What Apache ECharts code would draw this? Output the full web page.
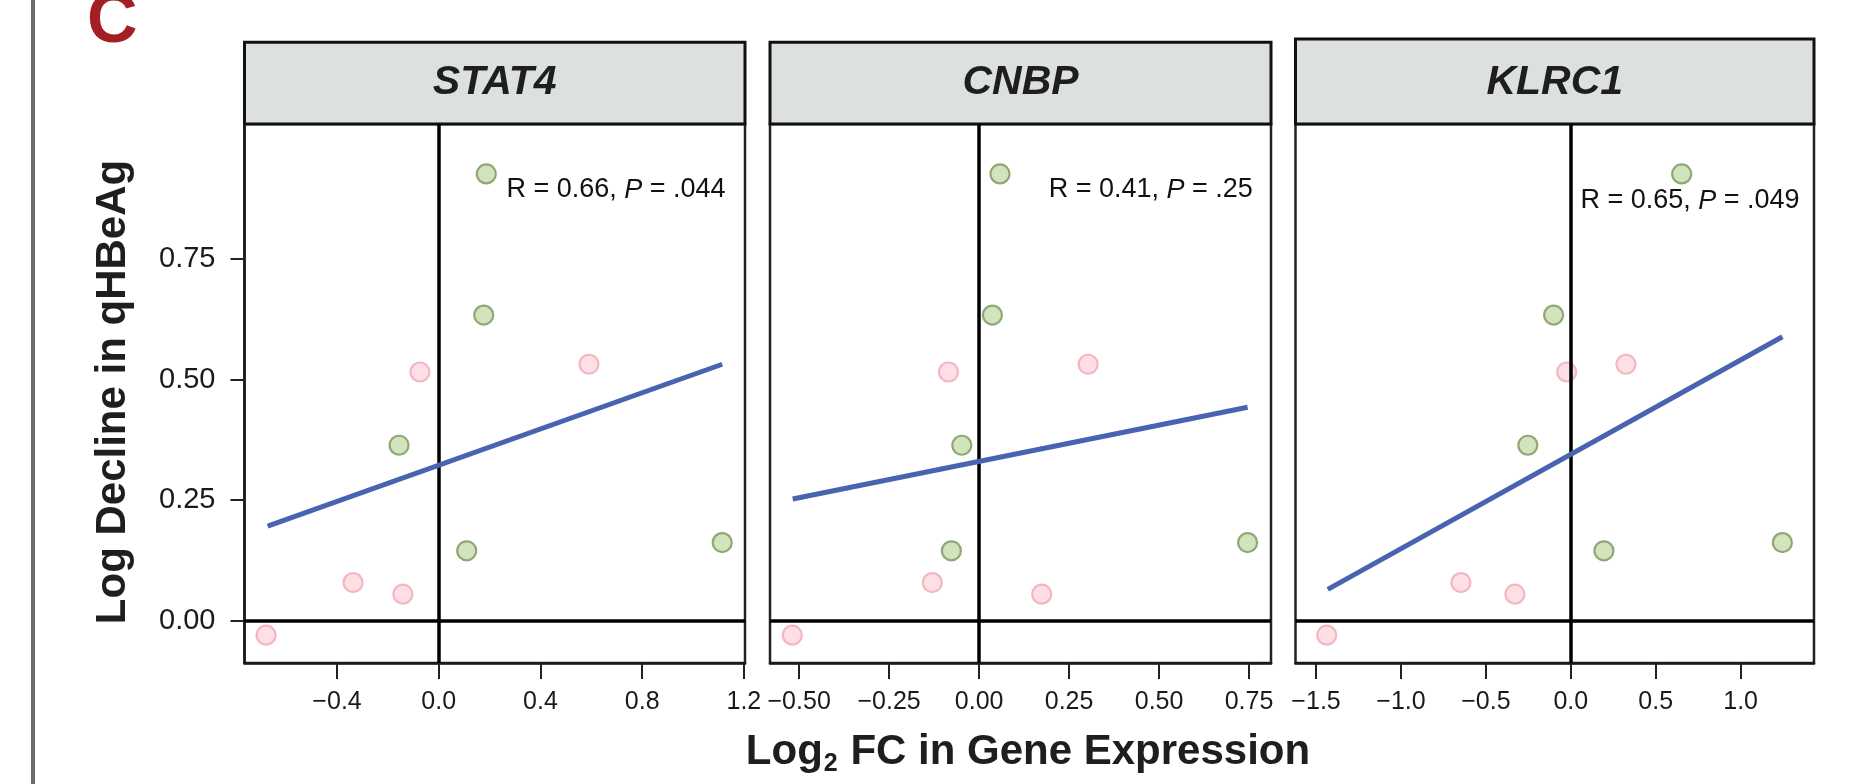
<!DOCTYPE html>
<html>
<head>
<meta charset="utf-8">
<script src="https://cdn.jsdelivr.net/npm/echarts@6/dist/echarts.min.js"></script>
<style>
  html, body { margin: 0; padding: 0; background: #fff; }
  #chart { width: 1854px; height: 784px; }
</style>
</head>
<body>
<div id="chart"></div>
<script>
// genes shown in the three facets
const genes = ['STAT4', 'CNBP', 'KLRC1'];
const stats = [['0.66', '.044'], ['0.41', '.25'], ['0.65', '.049']];

// log decline in qHBeAg, same samples in every facet
const greenY = [0.927, 0.634, 0.364, 0.145, 0.162];
const pinkY = [0.516, 0.532, 0.079, 0.055, -0.030];

// log2 FC per gene, same order as the y arrays
const stat4GreenX = [0.187, 0.177, -0.156, 0.110, 1.115];
const stat4PinkX = [-0.074, 0.591, -0.337, -0.141, -0.679];
const cnbpGreenX = [0.058, 0.037, -0.048, -0.077, 0.746];
const cnbpPinkX = [-0.085, 0.303, -0.130, 0.174, -0.519];
const klrc1GreenX = [0.653, -0.101, -0.253, 0.195, 1.246];
const klrc1PinkX = [-0.024, 0.325, -0.647, -0.329, -1.437];

// fitted line end points
const stat4Fit = [[-0.673, 0.196], [1.115, 0.532]];
const cnbpFit = [[-0.518, 0.2525], [0.746, 0.4427]];
const klrc1Fit = [[-1.431, 0.065], [1.246, 0.589]];

// axis ticks
const yTicks = [0, 0.25, 0.5, 0.75];
const stat4Ticks = [-0.4, 0, 0.4, 0.8, 1.2];
const cnbpTicks = [-0.5, -0.25, 0, 0.25, 0.5, 0.75];
const klrc1Ticks = [-1.5, -1.0, -0.5, 0, 0.5, 1.0];

const greenX = [stat4GreenX, cnbpGreenX, klrc1GreenX];
const pinkX = [stat4PinkX, cnbpPinkX, klrc1PinkX];
const fits = [stat4Fit, cnbpFit, klrc1Fit];
const xTicks = [stat4Ticks, cnbpTicks, klrc1Ticks];
const xDigits = [1, 2, 1];
const xRange = [[-0.764, 1.2045], [-0.581, 0.811], [-1.621, 1.432]];

const FONT = "'Liberation Sans', Arial, Helvetica, sans-serif";
const panels = [
  { left: 244.5, width: 500.5, stripTop: 42.3 },
  { left: 770, width: 501, stripTop: 42.3 },
  { left: 1295.5, width: 518.5, stripTop: 39 }
];
const plotTop = 124, plotBottom = 663;
const statPos = [[725.6, 190], [1252.8, 190], [1799.6, 201]];

const fmt = (v, d) => {
  const s = Math.abs(v).toFixed(d);
  return v < 0 ? '\u2212' + s : s;
};

const grids = [], xAxes = [], yAxes = [], series = [], graphics = [];

panels.forEach((p, i) => {
  grids.push({
    left: p.left, top: plotTop, width: p.width, height: plotBottom - plotTop,
    show: true, borderColor: '#222', borderWidth: 2.5, backgroundColor: '#fff'
  });
  xAxes.push({
    gridIndex: i, type: 'value', min: xRange[i][0], max: xRange[i][1],
    splitLine: { show: false },
    axisLine: { show: true, onZero: false, lineStyle: { color: '#1a1a1a', width: 2.5 } },
    axisTick: { show: true, length: 16, lineStyle: { color: '#222', width: 2 }, customValues: xTicks[i] },
    axisLabel: {
      show: true, margin: 27, fontSize: 25, color: '#1a1a1a', fontFamily: FONT,
      customValues: xTicks[i], formatter: v => fmt(v, xDigits[i])
    }
  });
  yAxes.push({
    gridIndex: i, type: 'value', min: -0.0878, max: 1.0305,
    splitLine: { show: false },
    axisLine: { show: i === 0, onZero: false, lineStyle: { color: '#1a1a1a', width: 2.5 } },
    axisTick: { show: i === 0, length: 14, lineStyle: { color: '#222', width: 2 }, customValues: yTicks },
    axisLabel: {
      show: i === 0, margin: 29, fontSize: 29, color: '#1a1a1a', fontFamily: FONT,
      customValues: yTicks, formatter: v => fmt(v, 2)
    }
  });

  series.push({
    type: 'scatter', xAxisIndex: i, yAxisIndex: i, z: 2, symbolSize: 19,
    itemStyle: { color: '#d3e3bc', borderColor: '#8fa878', borderWidth: 2.2, opacity: 1 },
    data: greenX[i].map((x, k) => [x, greenY[k]])
  });
  series.push({
    type: 'scatter', xAxisIndex: i, yAxisIndex: i, z: 2, symbolSize: 19,
    itemStyle: { color: '#fddfe4', borderColor: '#f5b6c3', borderWidth: 2.2, opacity: 1 },
    data: pinkX[i].map((x, k) => [x, pinkY[k]])
  });
  series.push({
    type: 'line', xAxisIndex: i, yAxisIndex: i, z: 4, symbol: 'none',
    lineStyle: { color: '#4863b0', width: 5 },
    data: fits[i],
    markLine: {
      silent: true, symbol: 'none', z: 3, label: { show: false },
      lineStyle: { color: '#000', width: 3.5, type: 'solid' },
      data: [{ xAxis: 0 }, { yAxis: 0 }]
    }
  });

  // facet strip
  graphics.push({
    type: 'rect',
    shape: { x: p.left, y: p.stripTop, width: p.width, height: plotTop - p.stripTop },
    style: { fill: '#dde1dd', stroke: '#111', lineWidth: 3 }
  });
  graphics.push({
    type: 'text', x: p.left + p.width / 2, y: 83,
    style: {
      text: genes[i], fill: '#1e1e1e', font: 'italic bold 41px ' + FONT,
      align: 'center', verticalAlign: 'middle'
    }
  });
  // correlation annotation
  graphics.push({
    type: 'text', x: statPos[i][0], y: statPos[i][1], z: 10,
    style: {
      text: '{n|R = ' + stats[i][0] + ', }{i|P}{n| = ' + stats[i][1] + '}',
      align: 'right', verticalAlign: 'middle',
      rich: {
        n: { fontSize: 27, fontFamily: FONT, fill: '#111' },
        i: { fontSize: 27, fontFamily: FONT, fontStyle: 'italic', fill: '#111' }
      }
    }
  });
});

// panel letter, left rule and axis titles
graphics.push({
  type: 'rect', shape: { x: 31, y: 0, width: 4, height: 784 },
  style: { fill: '#676a70' }
});
graphics.push({
  type: 'text', x: 87, y: 22.5,
  style: { text: 'C', fill: '#a31f24', font: 'bold 70px ' + FONT, align: 'left', verticalAlign: 'middle' }
});
graphics.push({
  type: 'text', x: 113.4, y: 392, rotation: Math.PI / 2,
  style: {
    text: 'Log Decline in qHBeAg', fill: '#1e1e1e', font: 'bold 42px ' + FONT,
    align: 'center', verticalAlign: 'middle'
  }
});
graphics.push({
  type: 'text', x: 1028, y: 752,
  style: {
    text: '{a|Log}{s|2}{a| FC in Gene Expression}',
    align: 'center', verticalAlign: 'middle',
    rich: {
      a: { fontSize: 42, fontWeight: 'bold', fontFamily: FONT, fill: '#1e1e1e', lineHeight: 48 },
      s: { fontSize: 25, fontWeight: 'bold', fontFamily: FONT, fill: '#1e1e1e', padding: [24, 1, 0, 1] }
    }
  }
});

const chart = echarts.init(document.getElementById('chart'));
chart.setOption({
  animation: false,
  backgroundColor: '#fff',
  grid: grids,
  xAxis: xAxes,
  yAxis: yAxes,
  series: series,
  graphic: graphics
});
</script>
</body>
</html>
